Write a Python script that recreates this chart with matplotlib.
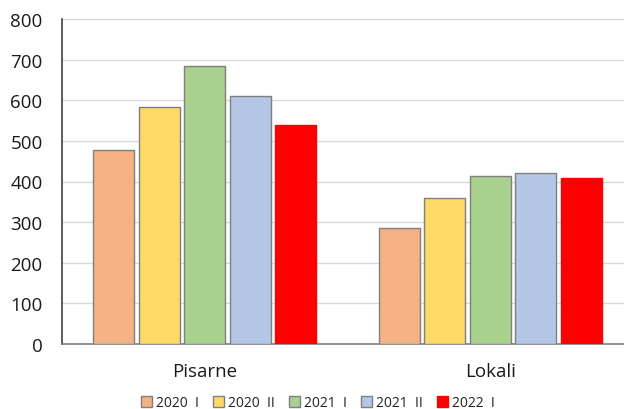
import matplotlib
matplotlib.use("Agg")
import matplotlib.pyplot as plt
import numpy as np

categories = ["Pisarne", "Lokali"]
series_names = ["2020  I", "2020  II", "2021  I", "2021  II", "2022  I"]
values = {
    "2020  I": [478, 286],
    "2020  II": [583, 360],
    "2021  I": [684, 413],
    "2021  II": [610, 421],
    "2022  I": [539, 409],
}
colors = ["#F4B183", "#FFD966", "#A9D18E", "#B4C7E7", "#FF0000"]
y_ticks = [0, 100, 200, 300, 400, 500, 600, 700, 800]

plt.rcParams["font.family"] = ["Open Sans", "DejaVu Sans"]

fig = plt.figure(figsize=(6.24, 4.10), dpi=100)
# plot area: left 62px, bottom 345px, top 20px, width 571px (extends past right edge)
W, H = 624, 410
ax = fig.add_axes([62 / W, (H - 345) / H, 571 / W, 325 / H])

x = np.arange(len(categories))
pitch = 0.1594
width = 0.1436
n = len(series_names)
for i, (name, col) in enumerate(zip(series_names, colors)):
    offs = (i - (n - 1) / 2) * pitch
    ec = "#7F7F7F" if col != "#FF0000" else "#FF0000"
    ax.bar(x + offs, values[name], width=width, color=col, edgecolor=ec,
           linewidth=1.0, label=name, zorder=3)

ax.set_xlim(-0.5, 1.5)
ax.set_ylim(0, 800)
ax.set_yticks(y_ticks)
ax.set_xticks(x)
ax.set_xticklabels(categories, fontsize=13.5, color="#1a1a1a")
ax.tick_params(axis="y", labelsize=13.5, colors="#1a1a1a", length=0, pad=14)
ax.tick_params(axis="x", length=0, pad=13)
ax.grid(axis="y", color="#D9D9D9", linewidth=1.0, zorder=0)
for s in ["top", "right"]:
    ax.spines[s].set_visible(False)
ax.spines["left"].set_color("#404040")
ax.spines["left"].set_linewidth(1.2)
ax.spines["bottom"].set_color("#808080")
ax.spines["bottom"].set_linewidth(1.2)

leg = fig.legend(loc="center", bbox_to_anchor=(318 / W, 1 - 404 / H), ncol=5,
                 frameon=False, fontsize=10, handlelength=0.8, handleheight=0.8,
                 handletextpad=0.3, columnspacing=1.0)
for t in leg.get_texts():
    t.set_color("#222222")

fig.savefig("out.png", dpi=100)
